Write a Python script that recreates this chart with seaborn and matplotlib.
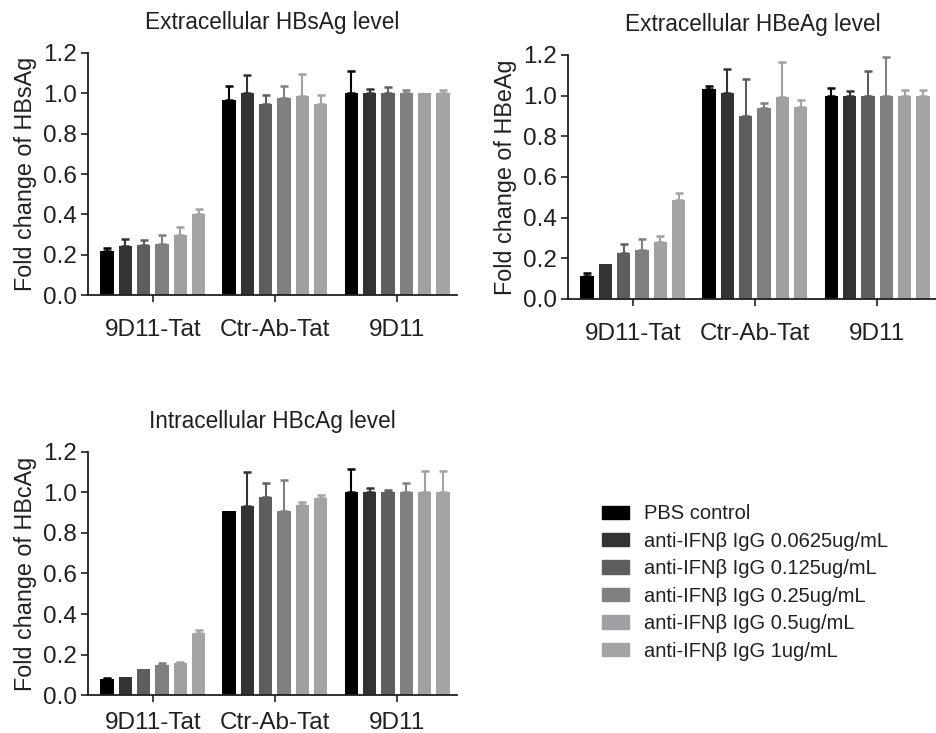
import seaborn as sns
import matplotlib.pyplot as plt
import pandas as pd

groups = ['9D11-Tat', 'Ctr-Ab-Tat', '9D11']
treatments = ['PBS control',
              'anti-IFNβ IgG 0.0625ug/mL',
              'anti-IFNβ IgG 0.125ug/mL',
              'anti-IFNβ IgG 0.25ug/mL',
              'anti-IFNβ IgG 0.5ug/mL',
              'anti-IFNβ IgG 1ug/mL']
colors = ['#000000', '#333333', '#5e5e5e', '#808080', '#a0a0a2', '#a4a4a7']

# mean values per group (rows) and treatment (cols)
hbs_mean = [[0.216, 0.241, 0.246, 0.252, 0.297, 0.400],
            [0.966, 1.000, 0.948, 0.976, 0.987, 0.948],
            [1.000, 1.000, 1.000, 1.000, 1.000, 1.000]]
hbs_err = [[0.015, 0.039, 0.026, 0.045, 0.038, 0.029],
           [0.069, 0.091, 0.042, 0.059, 0.111, 0.042],
           [0.111, 0.022, 0.032, 0.019, 0.002, 0.019]]

hbe_mean = [[0.111, 0.170, 0.228, 0.239, 0.280, 0.485],
            [1.033, 1.011, 0.900, 0.938, 0.993, 0.946],
            [1.000, 1.000, 1.000, 1.000, 1.000, 1.000]]
hbe_err = [[0.017, 0.002, 0.041, 0.056, 0.028, 0.036],
           [0.016, 0.122, 0.182, 0.028, 0.171, 0.033],
           [0.038, 0.025, 0.123, 0.189, 0.026, 0.028]]

hbc_mean = [[0.077, 0.089, 0.130, 0.150, 0.156, 0.305],
            [0.910, 0.933, 0.976, 0.910, 0.937, 0.971],
            [1.000, 1.000, 1.000, 1.000, 1.000, 1.000]]
hbc_err = [[0.007, 0.003, 0.001, 0.006, 0.007, 0.014],
           [0.000, 0.168, 0.071, 0.150, 0.018, 0.017],
           [0.116, 0.022, 0.011, 0.045, 0.106, 0.106]]

sns.set_style('ticks')
plt.rcParams['font.family'] = ['Liberation Sans', 'DejaVu Sans']
txt = '#231f20'
plt.rcParams['text.color'] = txt
plt.rcParams['axes.labelcolor'] = txt
plt.rcParams['xtick.color'] = txt
plt.rcParams['ytick.color'] = txt


def make_df(mean, err):
    rows = []
    for gi, g in enumerate(groups):
        for ti, t in enumerate(treatments):
            rows.append({'group': g, 'treatment': t,
                         'value': mean[gi][ti], 'err': err[gi][ti]})
    return pd.DataFrame(rows)


def panel(ax, mean, err, title, ylabel, xpad=12):
    df = make_df(mean, err)
    sns.barplot(data=df, x='group', y='value', hue='treatment',
                order=groups, hue_order=treatments, palette=colors,
                errorbar=None, width=0.9, gap=0.27, saturation=1,
                linewidth=0, ax=ax, legend=False)
    bar_conts = list(ax.containers)
    for ti, cont in enumerate(bar_conts):
        for gi, bar in enumerate(cont.patches):
            x = bar.get_x() + bar.get_width() / 2
            y = bar.get_height()
            e = err[gi][ti]
            if e > 0.003:
                ax.errorbar(x, y, yerr=[[0], [e]], fmt='none',
                            ecolor=colors[ti], elinewidth=1.5,
                            capsize=3, capthick=1.8)
    ax.set_ylim(0, 1.2)
    ax.set_xlim(-0.53, 2.49)
    ax.set_yticks([0, 0.2, 0.4, 0.6, 0.8, 1.0, 1.2])
    ax.set_yticklabels(['0.0', '0.2', '0.4', '0.6', '0.8', '1.0', '1.2'])
    ax.set_title(title, fontsize=16.3, pad=17, color=txt)
    ax.set_ylabel(ylabel, fontsize=16.8, labelpad=4)
    ax.set_xlabel('')
    ax.tick_params(axis='both', labelsize=17.5, length=5, width=1.2)
    ax.tick_params(axis='x', pad=xpad)
    ax.tick_params(axis='y', pad=3)
    for s in ['left', 'bottom']:
        ax.spines[s].set_linewidth(1.3)
        ax.spines[s].set_color('#231f20')
    sns.despine(ax=ax)


fig = plt.figure(figsize=(9.37, 7.33), dpi=100)
ax1 = fig.add_axes([0.0939, 0.5975, 0.3938, 0.3302])
ax2 = fig.add_axes([0.6062, 0.5921, 0.3938, 0.3329])
ax3 = fig.add_axes([0.0939, 0.0518, 0.3938, 0.3316])

panel(ax1, hbs_mean, hbs_err, 'Extracellular HBsAg level', 'Fold change of HBsAg')
panel(ax2, hbe_mean, hbe_err, 'Extracellular HBeAg level', 'Fold change of HBeAg')
panel(ax3, hbc_mean, hbc_err, 'Intracellular HBcAg level', 'Fold change of HBcAg',
      xpad=7)

handles = [plt.Rectangle((0, 0), 1, 1, color=c) for c in colors]
fig.legend(handles, treatments, loc='upper left', bbox_to_anchor=(0.643, 0.312),
           frameon=False, fontsize=14.5, handlelength=1.3, handleheight=0.65,
           labelspacing=0.42, handletextpad=0.75, borderaxespad=0, borderpad=0)

fig.savefig('out.png', dpi=100)
